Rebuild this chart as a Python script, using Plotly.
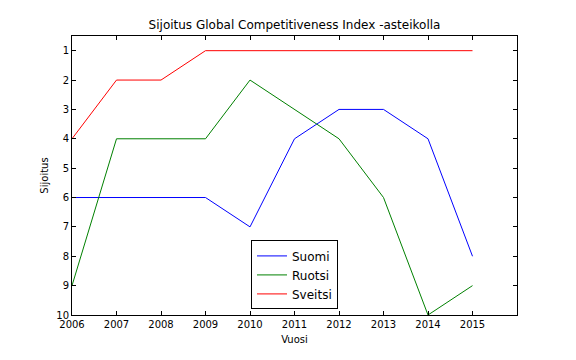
import plotly.graph_objects as go

years = [2006, 2007, 2008, 2009, 2010, 2011, 2012, 2013, 2014, 2015]
suomi = [6, 6, 6, 6, 7, 4, 3, 3, 4, 8]
ruotsi = [9, 4, 4, 4, 2, 3, 4, 6, 10, 9]
sveitsi = [4, 2, 2, 1, 1, 1, 1, 1, 1, 1]
y_ticks = [1, 2, 3, 4, 5, 6, 7, 8, 9, 10]

font = "DejaVu Sans"
fig = go.Figure()
for name, vals, col in [("Suomi", suomi, "#0000ff"), ("Ruotsi", ruotsi, "#008000"), ("Sveitsi", sveitsi, "#ff0000")]:
    fig.add_trace(go.Scatter(x=years, y=vals, name=name, mode="lines",
                             line=dict(color=col, width=1)))

axis_common = dict(showgrid=False, zeroline=False, showline=True, linecolor="black", linewidth=1,
                   mirror="ticks", ticks="inside", ticklen=4, tickcolor="black", automargin=False,
                   tickfont=dict(family=font, size=10, color="black"))
fig.update_layout(
    width=576, height=360,
    margin=dict(l=72, r=59, t=36, b=45),
    paper_bgcolor="white", plot_bgcolor="white",
    font=dict(family=font, color="black"),
    title=dict(text="Sijoitus Global Competitiveness Index -asteikolla", x=(72 + 517) / 2 / 576, xanchor="center",
               y=1 - 25 / 360, yanchor="middle", font=dict(family=font, size=12, color="black")),
    xaxis=dict(range=[2006, 2016], tickvals=years, ticktext=[str(y) for y in years],
               title=dict(text="Vuosi", font=dict(family=font, size=10), standoff=6), **axis_common),
    yaxis=dict(range=[10, 0.5], tickvals=y_ticks, ticktext=[str(v) for v in y_ticks],
               title=dict(text="Sijoitus", font=dict(family=font, size=10), standoff=5), **axis_common),
    legend=dict(x=0.5, xanchor="center", y=0.02, yanchor="bottom", bordercolor="black", borderwidth=1,
                bgcolor="white", font=dict(family=font, size=12, color="black"), itemwidth=30),
)
fig.write_html("out.html", config={"displayModeBar": False},
               post_script="document.body.style.margin='0px';")
